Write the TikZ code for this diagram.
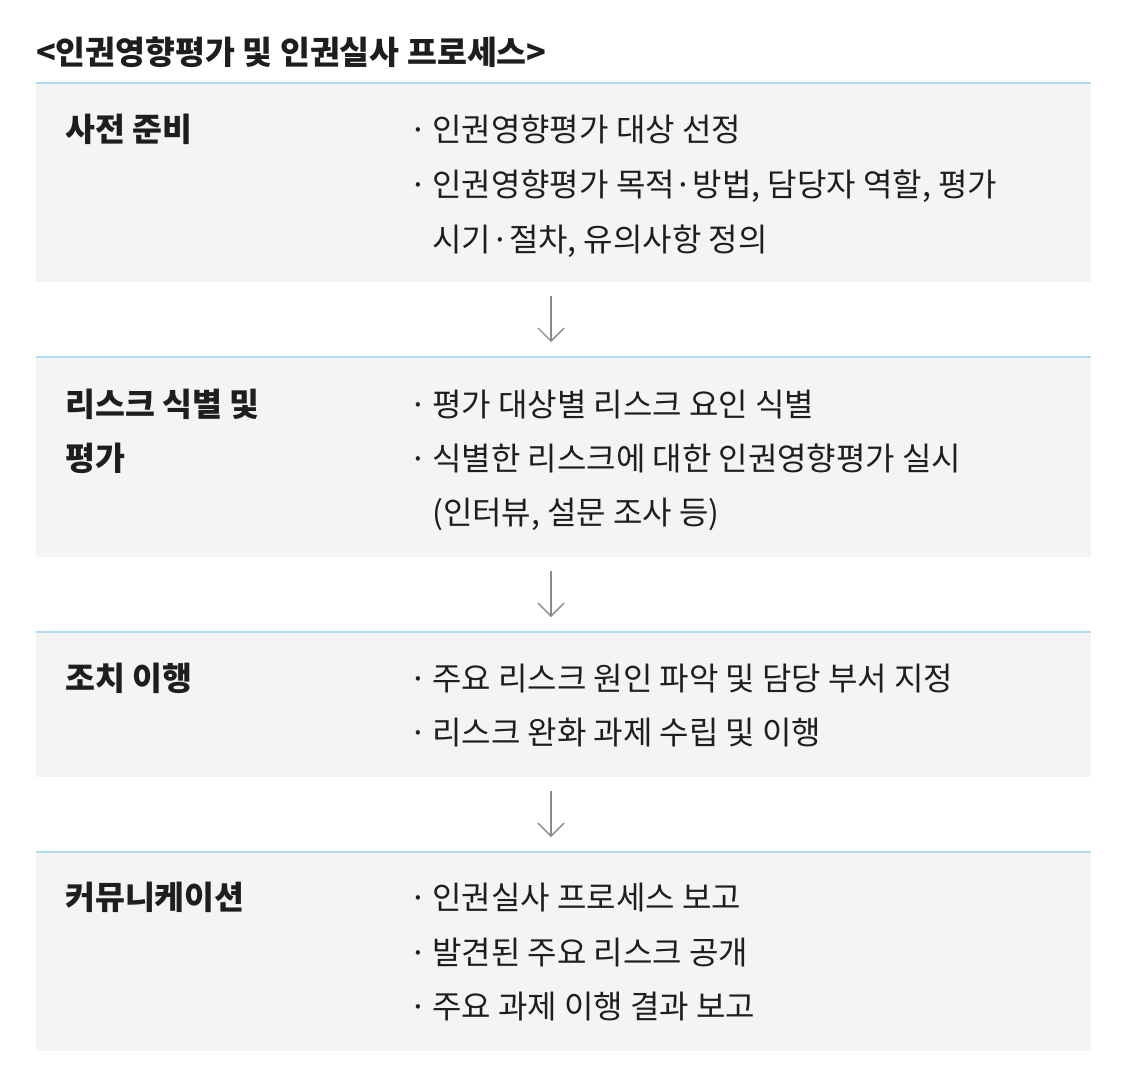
\documentclass[tikz,border=0pt]{standalone}
\usepackage{fontspec}
\setmainfont{Noto Sans CJK KR}
\usetikzlibrary{arrows.meta}
\definecolor{boxfill}{HTML}{F5F4F2}
\definecolor{topline}{HTML}{ADDCF5}
\definecolor{txt}{HTML}{1E1E1E}
\definecolor{arr}{HTML}{8A8A8A}
\tikzset{
  x=1pt,y=-1pt,
  panel/.style={fill=boxfill,draw=none,inner sep=0pt,anchor=north west,minimum width=1055pt},
  label/.style={anchor=base west,inner sep=0pt,text=txt,font=\fontsize{32.5}{32.5}\selectfont\bfseries},
  body/.style={anchor=base west,inner sep=0pt,text=txt,font=\fontsize{32}{32}\selectfont},
  dot/.style={anchor=base,inner sep=0pt,text=txt,font=\fontsize{32}{32}\selectfont},
  flow/.style={draw=arr,line width=1.4pt,-{Straight Barb[length=13pt,width=26pt,line width=1.4pt]}},
  rule/.style={draw=topline,line width=2pt}
}
\begin{document}
\begin{tikzpicture}
\useasboundingbox (0,0) rectangle (1126,1087);
\fill[white] (0,0) rectangle (1126,1087);
% title
\node[label] (title) at (36,64) {<인권영향평가 및 인권실사 프로세스>};
% panels
\node[panel,minimum height=199pt] (b1) at (36,83) {};
\node[panel,minimum height=200pt] (b2) at (36,357) {};
\node[panel,minimum height=145pt] (b3) at (36,632) {};
\node[panel,minimum height=199pt] (b4) at (36,852) {};
\foreach \b in {b1,b2,b3,b4}{\draw[rule] (\b.north west) -- (\b.north east);}
% panel 1
\node[label] (l1) at (65,141) {사전 준비};
\node[dot] (d11) at (418,141) {·};
\node[body] (t11) at (432,141) {인권영향평가 대상 선정};
\node[dot] (d12) at (418,196) {·};
\node[body] (t12) at (432,196) {인권영향평가 목적·방법, 담당자 역할, 평가};
\node[body] (t13) at (432,251) {시기·절차, 유의사항 정의};
% panel 2
\node[label] (l2a) at (65,416) {리스크 식별 및};
\node[label] (l2b) at (65,470) {평가};
\node[dot] (d21) at (418,416) {·};
\node[body] (t21) at (432,416) {평가 대상별 리스크 요인 식별};
\node[dot] (d22) at (418,470) {·};
\node[body] (t22) at (432,470) {식별한 리스크에 대한 인권영향평가 실시};
\node[body] (t23) at (432,524) {(인터뷰, 설문 조사 등)};
% panel 3
\node[label] (l3) at (65,690) {조치 이행};
\node[dot] (d31) at (418,690) {·};
\node[body] (t31) at (432,690) {주요 리스크 원인 파악 및 담당 부서 지정};
\node[dot] (d32) at (418,744) {·};
\node[body] (t32) at (432,744) {리스크 완화 과제 수립 및 이행};
% panel 4
\node[label] (l4) at (65,909) {커뮤니케이션};
\node[dot] (d41) at (418,909) {·};
\node[body] (t41) at (432,909) {인권실사 프로세스 보고};
\node[dot] (d42) at (418,964) {·};
\node[body] (t42) at (432,964) {발견된 주요 리스크 공개};
\node[dot] (d43) at (418,1018) {·};
\node[body] (t43) at (432,1018) {주요 과제 이행 결과 보고};
% arrows
\coordinate (a1s) at (551,296); \coordinate (a1e) at (551,342);
\coordinate (a2s) at (551,571); \coordinate (a2e) at (551,617);
\coordinate (a3s) at (551,791); \coordinate (a3e) at (551,837);
\draw[flow] (a1s) -- (a1e);
\draw[flow] (a2s) -- (a2e);
\draw[flow] (a3s) -- (a3e);
\end{tikzpicture}
\end{document}
